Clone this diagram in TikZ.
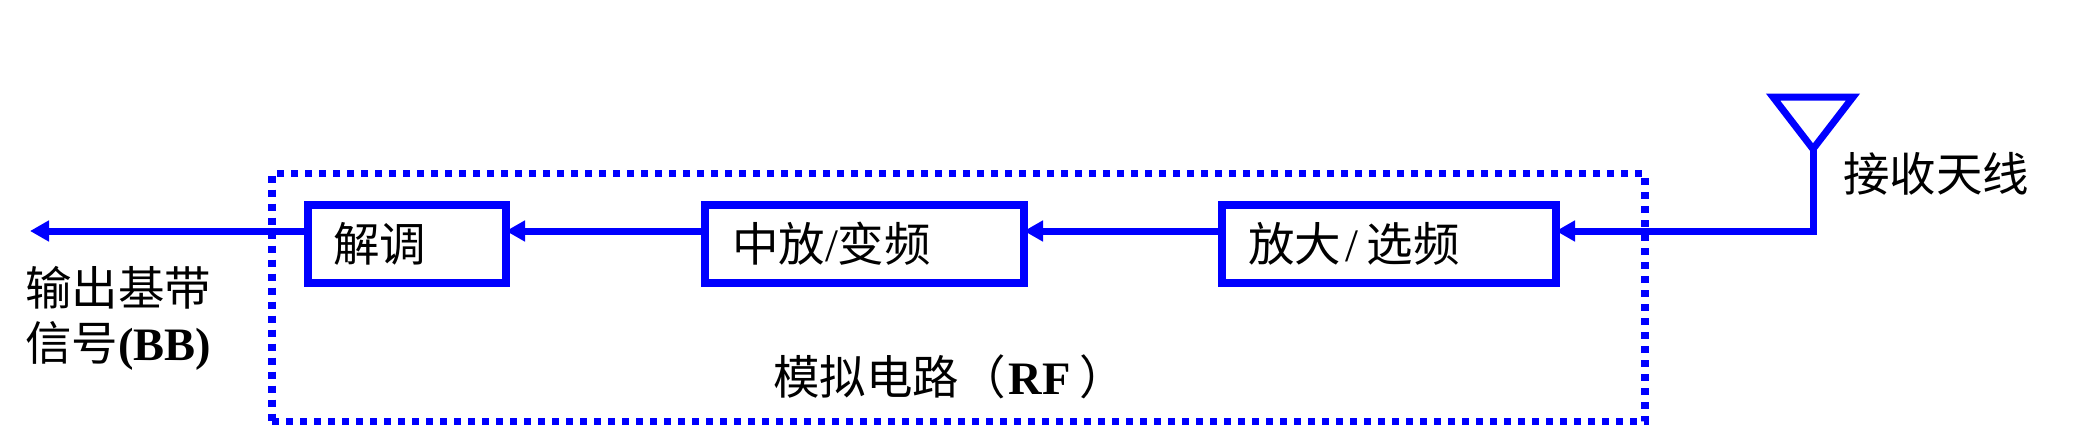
\documentclass[tikz,border=0pt]{standalone}
\usepackage{fontspec}
\setmainfont{Noto Sans CJK SC}
\newfontfamily\lat{Liberation Serif}
\usetikzlibrary{arrows.meta}
\definecolor{rfblue}{RGB}{0,0,255}
\tikzset{
  x=1pt,y=-1pt,
  blocktext/.style={font=\fontsize{46.5}{58}\selectfont},
  blockbox/.style={draw=rfblue,line width=7.5pt,anchor=north west,outer sep=0pt,inner xsep=0pt,inner ysep=0pt,
    minimum height=78pt,align=left,blocktext},
  caption/.style={anchor=west,inner sep=0pt,font=\fontsize{46.5}{58}\selectfont,align=left,text=black},
  flow/.style={draw=rfblue,line width=7pt,line join=miter,-{Triangle[length=19pt,width=20pt]}},
  dotframe/.style={draw=rfblue,line width=7.2pt,dash pattern=on 7pt off 7pt,anchor=north west,outer sep=0pt,inner sep=0pt}
}
\begin{document}
\begin{tikzpicture}
\useasboundingbox (0,0) rectangle (2089,426);
\node[dotframe,minimum width=1373pt,minimum height=248pt] (rfframe) at (272,173.5) {};
\node[blockbox,minimum width=198pt,text width=198pt] (dem) at (308,205) {\hspace{25pt}解调};
\node[blockbox,minimum width=319pt,text width=319pt] (ifb) at (705,205) {\hspace{27pt}中放{\lat/}变频};
\node[blockbox,minimum width=334pt,text width=334pt] (rfb) at (1222,205) {\hspace{26pt}放大\hspace{4pt}{\lat/}\hspace{9pt}选频};
\coordinate (bus) at (1813,231);
\coordinate (out) at (30,231);
\coordinate (apex) at (1813,149);
\coordinate (tl) at (1773,97);
\coordinate (tr) at (1853,97);
\draw[draw=rfblue,line width=7pt,line join=miter] (tl) -- (tr) -- (apex) -- cycle;
\draw[flow] (apex) |- (rfb.east |- bus);
\draw[flow] (rfb.west |- bus) -- (ifb.east |- bus);
\draw[flow] (ifb.west |- bus) -- (dem.east |- bus);
\draw[flow] (dem.west |- bus) -- (out);
\node[caption] (ant) at (1843,174) {接收天线};
\node[caption] (bb1) at (25,288) {输出基带};
\node[caption] (bb2) at (25,346) {信号{\lat\bfseries(BB)}};
\node[caption] (rflabel) at (773,377) {模拟电路（\hspace{3pt}{\lat\bfseries RF}\hspace{9pt}）};
\end{tikzpicture}
\end{document}
